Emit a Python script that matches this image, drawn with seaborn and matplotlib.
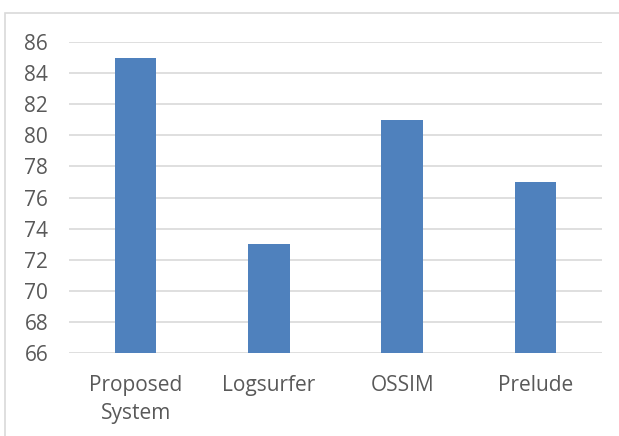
import matplotlib
matplotlib.use("Agg")
import matplotlib.pyplot as plt
import seaborn as sns
import pandas as pd
from matplotlib.patches import Rectangle

categories = ["Proposed\nSystem", "Logsurfer", "OSSIM", "Prelude"]
values = [85, 73, 81, 77]
yticks = [66, 68, 70, 72, 74, 76, 78, 80, 82, 84, 86]

sns.set_theme(style="white")
plt.rcParams['font.family'] = ['Open Sans', 'DejaVu Sans']

df = pd.DataFrame({"cat": categories, "val": values})

fig = plt.figure(figsize=(6.19, 4.36), dpi=100)
fig.patch.set_facecolor("white")
fig.patches.append(Rectangle((5/619, -0.1), 1.2, 1 - 13/436 + 0.1, transform=fig.transFigure,
                             fill=False, edgecolor="#D9D9D9", linewidth=1.2, zorder=0))
ax = fig.add_axes([69/619, 1 - 353/436, (602 - 69)/619, (353 - 42)/436])

sns.barplot(data=df, x="cat", y="val", color="#4F81BD", width=0.31, ax=ax,
            saturation=1, zorder=3, edgecolor="none", linewidth=0)
ax.set_ylim(66, 86)
ax.set_yticks(yticks)
ax.yaxis.grid(True, color="#D9D9D9", linewidth=1.2, zorder=0)
ax.set_axisbelow(True)
for s in ax.spines.values():
    s.set_visible(False)
ax.set_xlabel("")
ax.set_ylabel("")
ax.tick_params(axis="y", length=0, pad=15, labelsize=15, labelcolor="#595959")
ax.tick_params(axis="x", length=0, pad=16, labelsize=15, labelcolor="#595959")
for lbl in ax.get_xticklabels():
    lbl.set_linespacing(1.4)
ax.set_xlim(-0.5, 3.5)

fig.savefig("out.png", dpi=100)
